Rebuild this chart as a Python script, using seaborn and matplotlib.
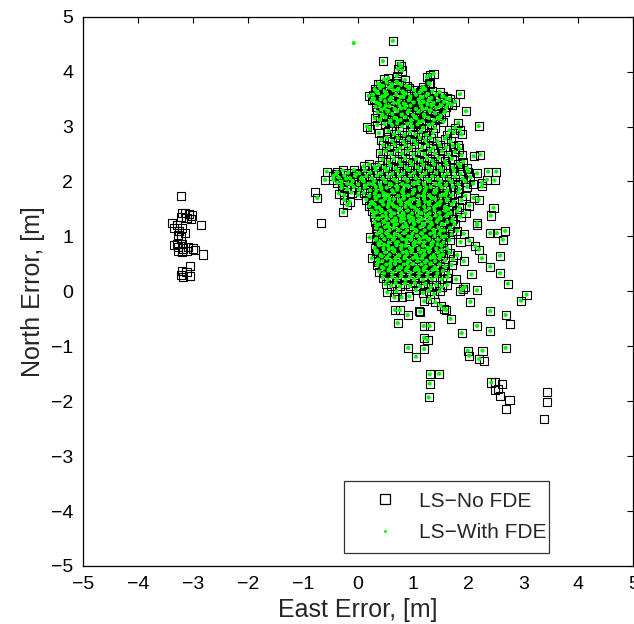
import matplotlib
matplotlib.use("Agg")
import matplotlib.pyplot as plt
from matplotlib.lines import Line2D
import seaborn as sns
import pandas as pd

# Position errors shared by both solutions (east, north in metres)
shared_east = [
    0.72, 0.78, 0.80, 1.30, 1.37, 1.25, 0.63, 0.45, 0.75,
    0.47, 0.55, 0.70, 0.85, 1.28,
    0.36, 0.45, 0.52, 0.61, 0.70, 0.78, 0.88, 1.18, 1.30,
    0.30, 0.40, 0.48, 0.56, 0.64, 0.73, 0.81, 0.92, 1.02, 1.12, 1.22, 1.35,
    0.19, 0.27, 0.36, 0.44, 0.52, 0.60, 0.69, 0.77, 0.86, 0.95, 1.05, 1.14, 1.24, 1.33, 1.42, 1.55, 1.85,
    0.25, 0.33, 0.41, 0.49, 0.57, 0.65, 0.74, 0.83, 0.92, 1.01, 1.10, 1.19, 1.28, 1.37, 1.46, 1.56, 1.66, 1.76,
    0.32, 0.40, 0.48, 0.57, 0.66, 0.75, 0.85, 0.95, 1.05, 1.15, 1.24, 1.33, 1.42, 1.51, 1.60, 1.70,
    0.35, 0.44, 0.53, 0.62, 0.71, 0.80, 0.90, 1.00, 1.10, 1.20, 1.30, 1.40, 1.50, 1.58, 1.96,
    0.30, 0.40, 0.50, 0.59, 0.68, 0.77, 0.86, 0.96, 1.06, 1.17, 1.28, 1.38, 1.47, 1.55, 1.82,
    0.16, 0.21, 0.35, 0.48, 0.62, 0.71, 0.80, 0.89, 0.98, 1.08, 1.18, 1.28, 1.40, 1.66, 1.76, 1.85, 2.19,
    0.38, 0.55, 0.65, 0.74, 0.84, 0.94, 1.04, 1.14, 1.24, 1.36, 1.62, 1.74, 1.88,
    0.42, 0.52, 0.62, 0.72, 0.82, 0.92, 1.02, 1.12, 1.22, 1.32, 1.44, 1.58, 1.68, 1.82,
    0.45, 0.56, 0.66, 0.76, 0.86, 0.96, 1.06, 1.16, 1.26, 1.36, 1.48, 1.60, 1.72, 1.84,
    0.40, 0.50, 0.60, 0.70, 0.80, 0.90, 1.00, 1.10, 1.20, 1.30, 1.40, 1.52, 1.64, 1.76, 1.88, 2.10, 2.22,
    0.44, 0.55, 0.65, 0.75, 0.85, 0.95, 1.05, 1.15, 1.25, 1.35, 1.46, 1.58, 1.70, 1.91, 1.82,
    0.10, 0.20, 0.30, 0.38, 0.48, 0.58, 0.68, 0.78, 0.88, 0.98, 1.08, 1.18, 1.28, 1.38, 1.48, 1.60, 1.72, 1.85, 1.98,
    -0.57, -0.38, -0.28, -0.18, -0.08, 0.02, 0.12, 0.22, 0.32, 0.42, 0.52, 0.62, 0.72, 0.82, 0.92, 1.02,
    1.12, 1.22, 1.32, 1.42, 1.52, 1.62, 1.74, 1.86, 2.00, 2.16, 2.36, 2.51,
    -0.45, -0.35, -0.25, -0.15, -0.05, 0.05, 0.15, 0.25, 0.35, 0.45, 0.55, 0.65, 0.75, 0.85, 0.95, 1.05,
    1.15, 1.25, 1.35, 1.45, 1.55, 1.65, 1.76, 1.90, 2.04, 2.25,
    -0.60, -0.45, -0.38, -0.30, -0.20, -0.10, 0.00, 0.10, 0.20, 0.30, 0.40, 0.50, 0.60, 0.70, 0.80, 0.90,
    1.00, 1.10, 1.20, 1.30, 1.40, 1.50, 1.60, 1.70, 1.82, 1.95, 2.09, 2.34, 2.48,
    -0.30, -0.20, -0.08, 0.02, 0.12, 0.22, 0.32, 0.42, 0.52, 0.62, 0.72, 0.82, 0.92, 1.02, 1.12, 1.22,
    1.32, 1.42, 1.52, 1.62, 1.72, 1.84, 1.98, 2.25,
    -0.35, -0.25, -0.12, 0.00, 0.10, 0.20, 0.30, 0.38, 0.46, 0.55, 0.64, 0.73, 0.82, 0.91, 1.00, 1.10,
    1.20, 1.30, 1.40, 1.50, 1.60, 1.70, 1.82, 1.95, 2.10,
    -0.74, -0.25, -0.15, 0.15, 0.25, 0.33, 0.41, 0.49, 0.57, 0.65, 0.74, 0.83, 0.92, 1.01, 1.10, 1.20,
    1.30, 1.40, 1.50, 1.62, 1.74, 1.88, 2.19,
    -0.20, 0.20, 0.30, 0.38, 0.46, 0.54, 0.62, 0.70, 0.78, 0.86, 0.94, 1.02, 1.11, 1.20, 1.29, 1.38,
    1.48, 1.58, 1.70, 1.84, 2.02,
    -0.27, 0.25, 0.34, 0.42, 0.50, 0.58, 0.66, 0.74, 0.82, 0.90, 0.98, 1.06, 1.14, 1.22, 1.30, 1.39,
    1.48, 1.58, 1.68, 1.80, 1.95, 2.46, 2.41,
    0.28, 0.36, 0.44, 0.52, 0.60, 0.68, 0.76, 0.84, 0.92, 1.00, 1.08, 1.16, 1.24, 1.32, 1.41, 1.50,
    1.60, 1.72, 1.86,
    0.30, 0.38, 0.46, 0.54, 0.62, 0.70, 0.78, 0.86, 0.94, 1.02, 1.10, 1.18, 1.26, 1.34, 1.43, 1.52,
    1.62, 1.75, 2.16, 2.16,
    0.33, 0.41, 0.49, 0.57, 0.65, 0.73, 0.81, 0.89, 0.97, 1.05, 1.13, 1.21, 1.29, 1.37, 1.46, 1.56,
    1.67, 1.80, 1.92,
    0.21, 0.35, 0.43, 0.51, 0.59, 0.67, 0.75, 0.83, 0.91, 0.99, 1.07, 1.15, 1.23, 1.31, 1.39, 1.48,
    1.58, 1.70, 2.40, 2.52, 2.67, 2.63,
    0.32, 0.40, 0.48, 0.56, 0.64, 0.72, 0.80, 0.88, 0.96, 1.04, 1.12, 1.20, 1.28, 1.36, 1.45, 1.55,
    1.66, 1.86, 2.02,
    0.30, 0.38, 0.46, 0.54, 0.62, 0.70, 0.78, 0.86, 0.94, 1.02, 1.10, 1.18, 1.26, 1.34, 1.42, 1.51,
    1.62, 2.13, 2.20,
    0.33, 0.41, 0.49, 0.57, 0.65, 0.73, 0.81, 0.89, 0.97, 1.05, 1.13, 1.21, 1.29, 1.37, 1.45, 1.54,
    1.66, 1.80,
    0.25, 0.36, 0.44, 0.52, 0.60, 0.68, 0.76, 0.84, 0.92, 1.00, 1.08, 1.16, 1.24, 1.32, 1.40, 1.48,
    1.58, 1.72, 1.92, 2.25, 2.58,
    0.35, 0.43, 0.51, 0.59, 0.67, 0.75, 0.83, 0.91, 0.99, 1.07, 1.15, 1.23, 1.31, 1.39, 1.48, 1.58,
    1.70, 2.40,
    0.38, 0.47, 0.55, 0.63, 0.71, 0.79, 0.87, 0.95, 1.03, 1.11, 1.19, 1.27, 1.35, 1.44, 1.54, 1.64,
    2.06, 2.58,
    0.45, 0.54, 0.62, 0.70, 0.78, 0.86, 0.94, 1.02, 1.10, 1.18, 1.26, 1.34, 1.42, 1.52, 1.62, 1.78, 2.72,
    0.50, 0.60, 0.68, 0.76, 0.85, 0.94, 1.03, 1.12, 1.22, 1.32, 1.42, 1.52, 1.62, 1.90, 1.94,
    0.53, 0.66, 0.79, 0.93, 0.70, 1.05, 1.18, 1.28, 1.38, 1.48, 1.85, 2.16,
    1.20, 1.30, 1.40, 1.50, 1.56, 2.04, 2.96, 3.06,
    0.67, 0.76, 0.90, 1.13, 1.60, 1.68, 2.40, 2.68,
    0.72, 1.19, 1.30, 1.20, 1.26, 0.91, 1.05, 1.20, 1.30, 1.47, 1.30, 1.28,
    1.88, 2.16, 2.40, 2.68, 1.99, 2.02, 2.26, 2.20, 2.42,
]
shared_north = [
    4.05, 4.10, 4.02, 3.93, 3.96, 3.90, 4.56, 4.19, 4.14,
    3.86, 3.88, 3.92, 3.85, 3.79,
    3.78, 3.74, 3.80, 3.77, 3.82, 3.76, 3.74, 3.72, 3.78,
    3.68, 3.70, 3.64, 3.71, 3.66, 3.69, 3.64, 3.70, 3.66, 3.62, 3.68, 3.64,
    3.56, 3.58, 3.61, 3.55, 3.59, 3.53, 3.58, 3.54, 3.60, 3.55, 3.58, 3.54, 3.57, 3.52, 3.58, 3.55, 3.59,
    3.48, 3.44, 3.50, 3.46, 3.49, 3.43, 3.47, 3.42, 3.48, 3.44, 3.49, 3.45, 3.48, 3.43, 3.48, 3.45, 3.50, 3.45,
    3.36, 3.39, 3.33, 3.37, 3.32, 3.38, 3.34, 3.38, 3.32, 3.37, 3.33, 3.38, 3.34, 3.39, 3.35, 3.40,
    3.26, 3.22, 3.27, 3.23, 3.28, 3.22, 3.26, 3.21, 3.27, 3.22, 3.28, 3.24, 3.20, 3.27, 3.28,
    3.15, 3.12, 3.17, 3.11, 3.16, 3.12, 3.17, 3.12, 3.15, 3.10, 3.16, 3.12, 3.14, 3.09, 3.07,
    3.00, 2.95, 3.03, 3.05, 3.02, 3.06, 3.00, 3.05, 2.99, 3.04, 2.98, 3.03, 2.97, 2.93, 2.98, 2.94, 3.01,
    2.88, 2.92, 2.86, 2.91, 2.85, 2.90, 2.86, 2.91, 2.85, 2.88, 2.84, 2.89, 2.86,
    2.76, 2.80, 2.74, 2.79, 2.73, 2.78, 2.74, 2.80, 2.75, 2.79, 2.74, 2.78, 2.73, 2.67,
    2.66, 2.62, 2.67, 2.61, 2.66, 2.62, 2.68, 2.62, 2.67, 2.61, 2.66, 2.62, 2.65, 2.60,
    2.52, 2.55, 2.50, 2.56, 2.51, 2.55, 2.49, 2.54, 2.50, 2.56, 2.51, 2.55, 2.49, 2.54, 2.48, 2.46, 2.49,
    2.40, 2.36, 2.41, 2.37, 2.42, 2.36, 2.41, 2.37, 2.42, 2.38, 2.43, 2.37, 2.41, 2.36, 2.32,
    2.28, 2.31, 2.27, 2.30, 2.25, 2.29, 2.24, 2.30, 2.25, 2.31, 2.26, 2.30, 2.25, 2.31, 2.26, 2.30, 2.25, 2.28, 2.24,
    2.18, 2.17, 2.20, 2.16, 2.21, 2.15, 2.20, 2.16, 2.21, 2.15, 2.20, 2.14, 2.19, 2.15, 2.21, 2.16,
    2.20, 2.15, 2.21, 2.16, 2.20, 2.15, 2.19, 2.14, 2.18, 2.15, 2.18, 2.18,
    2.10, 2.07, 2.11, 2.06, 2.10, 2.05, 2.10, 2.06, 2.11, 2.05, 2.09, 2.04, 2.10, 2.05, 2.11, 2.06,
    2.10, 2.04, 2.09, 2.05, 2.10, 2.04, 2.09, 2.05, 2.08, 1.98,
    2.03, 2.03, 1.98, 2.00, 1.96, 2.01, 1.95, 2.00, 1.96, 2.01, 1.95, 1.99, 1.94, 2.00, 1.95, 2.01,
    1.96, 2.00, 1.95, 2.01, 1.96, 2.00, 1.94, 1.99, 1.95, 2.00, 1.96, 2.03, 2.02,
    1.88, 1.86, 1.90, 1.85, 1.89, 1.84, 1.90, 1.85, 1.89, 1.84, 1.90, 1.86, 1.91, 1.85, 1.89, 1.84,
    1.90, 1.85, 1.89, 1.84, 1.90, 1.86, 1.90, 1.91,
    1.78, 1.75, 1.80, 1.76, 1.79, 1.74, 1.78, 1.74, 1.79, 1.75, 1.80, 1.74, 1.79, 1.75, 1.80, 1.74,
    1.79, 1.75, 1.80, 1.74, 1.79, 1.75, 1.79, 1.74, 1.70,
    1.70, 1.66, 1.63, 1.67, 1.63, 1.68, 1.64, 1.69, 1.63, 1.68, 1.64, 1.69, 1.63, 1.68, 1.64, 1.69,
    1.63, 1.68, 1.64, 1.68, 1.63, 1.66, 1.67,
    1.57, 1.55, 1.58, 1.53, 1.58, 1.54, 1.59, 1.53, 1.58, 1.54, 1.59, 1.53, 1.58, 1.54, 1.59, 1.53,
    1.58, 1.54, 1.58, 1.53, 1.56,
    1.44, 1.47, 1.44, 1.48, 1.43, 1.47, 1.42, 1.48, 1.43, 1.47, 1.42, 1.48, 1.43, 1.47, 1.42, 1.47,
    1.43, 1.47, 1.42, 1.46, 1.42, 1.52, 1.38,
    1.36, 1.33, 1.37, 1.32, 1.37, 1.33, 1.38, 1.32, 1.37, 1.33, 1.38, 1.32, 1.37, 1.33, 1.38, 1.33,
    1.37, 1.32, 1.36,
    1.26, 1.22, 1.27, 1.23, 1.28, 1.22, 1.27, 1.23, 1.28, 1.22, 1.27, 1.23, 1.28, 1.22, 1.27, 1.23,
    1.26, 1.22, 1.24, 1.21,
    1.15, 1.12, 1.17, 1.11, 1.16, 1.12, 1.17, 1.11, 1.16, 1.12, 1.17, 1.11, 1.16, 1.12, 1.16, 1.11,
    1.15, 1.10, 1.05,
    0.98, 1.05, 1.01, 1.06, 1.00, 1.05, 1.01, 1.06, 1.00, 1.05, 1.01, 1.06, 1.00, 1.05, 1.01, 1.05,
    1.00, 1.04, 1.06, 1.06, 1.10, 0.94,
    0.94, 0.90, 0.95, 0.89, 0.94, 0.90, 0.95, 0.89, 0.94, 0.90, 0.95, 0.89, 0.94, 0.90, 0.94, 0.89,
    0.93, 0.90, 0.92,
    0.79, 0.84, 0.78, 0.83, 0.79, 0.84, 0.78, 0.83, 0.79, 0.84, 0.78, 0.83, 0.79, 0.84, 0.78, 0.83,
    0.78, 0.82, 0.76,
    0.70, 0.66, 0.71, 0.67, 0.72, 0.66, 0.71, 0.67, 0.72, 0.66, 0.71, 0.67, 0.72, 0.66, 0.71, 0.67,
    0.70, 0.66,
    0.60, 0.58, 0.55, 0.60, 0.56, 0.61, 0.55, 0.60, 0.56, 0.61, 0.55, 0.60, 0.56, 0.61, 0.55, 0.60,
    0.56, 0.58, 0.55, 0.60, 0.65,
    0.48, 0.44, 0.49, 0.45, 0.50, 0.44, 0.49, 0.45, 0.50, 0.44, 0.49, 0.45, 0.50, 0.44, 0.49, 0.45,
    0.48, 0.45,
    0.36, 0.33, 0.38, 0.34, 0.39, 0.33, 0.38, 0.34, 0.39, 0.33, 0.38, 0.34, 0.39, 0.33, 0.37, 0.33,
    0.31, 0.33,
    0.25, 0.21, 0.26, 0.22, 0.27, 0.21, 0.26, 0.22, 0.27, 0.21, 0.26, 0.22, 0.27, 0.22, 0.25, 0.22, 0.14,
    0.13, 0.10, 0.15, 0.09, 0.14, 0.10, 0.15, 0.09, 0.13, 0.08, 0.12, 0.08, 0.12, 0.05, 0.08,
    -0.02, -0.11, -0.11, -0.09, 0.00, 0.02, -0.03, 0.01, -0.05, 0.00, 0.00, 0.02,
    -0.18, -0.14, -0.20, -0.26, -0.32, -0.19, -0.17, -0.06,
    -0.34, -0.34, -0.43, -0.37, -0.34, -0.50, -0.36, -0.43,
    -0.58, -0.63, -0.63, -0.85, -0.88, -1.03, -1.19, -1.05, -1.51, -1.50, -1.68, -1.93,
    -0.76, -0.63, -0.72, -1.03, -1.08, -1.17, -1.08, -1.23, -1.66,
]

# Additional shared fixes packed into the densest parts of the cloud
dense_east = [
    0.39, 0.61, 0.71, 0.93,
    0.33, 0.50, 0.72, 0.81, 1.15, 1.27, 1.48,
    0.29, 0.48, 0.59, 0.82, 0.94, 1.17, 1.29, 1.53, 1.61,
    0.38, 0.50, 0.73, 0.86, 1.12, 1.26, 1.49, 1.63,
    0.42, 0.55, 0.78, 0.92, 1.17, 1.32, 1.57,
    0.43, 0.66, 0.79, 1.04, 1.20, 1.45,
    0.57, 0.72, 0.96, 1.11, 1.35,
    -0.40, -0.22, -0.04, 0.14, -0.13, 0.07, -0.30,
    0.27, 0.41, 0.58, 0.69, 0.87, 1.06, 1.24, 1.47,
    0.33, 0.49, 0.71, 0.80, 0.99, 1.12, 1.38, 1.55,
    0.31, 0.47, 0.57, 0.83, 0.95, 1.19, 1.34, 1.59,
    0.24, 0.44, 0.55, 0.77, 0.88, 1.09, 1.22, 1.45, 1.61,
    0.33, 0.43, 0.65, 0.76, 0.97, 1.08, 1.29, 1.41, 1.64,
    0.29, 0.51, 0.61, 0.83, 0.93, 1.15, 1.25, 1.49, 1.63,
    0.37, 0.47, 0.69, 0.79, 1.01, 1.11, 1.33, 1.45, 1.71,
    0.34, 0.56, 0.66, 0.88, 0.99, 1.20, 1.30, 1.54,
    0.42, 0.52, 0.74, 0.84, 1.06, 1.16, 1.38, 1.50,
    0.33, 0.55, 0.65, 0.87, 0.97, 1.19, 1.29, 1.53,
    0.37, 0.47, 0.69, 0.79, 1.01, 1.11, 1.33, 1.44,
    0.34, 0.56, 0.66, 0.88, 0.98, 1.20, 1.30, 1.52,
    0.43, 0.53, 0.75, 0.85, 1.07, 1.17, 1.39, 1.49,
    0.36, 0.58, 0.68, 0.90, 1.00, 1.22, 1.32,
    0.46, 0.56, 0.78, 0.88, 1.10, 1.20, 1.42,
]
dense_north = [
    3.77, 3.73, 3.79, 3.71,
    3.64, 3.60, 3.67, 3.62, 3.66, 3.59, 3.63,
    3.51, 3.55, 3.49, 3.54, 3.50, 3.53, 3.48, 3.55, 3.51,
    3.42, 3.38, 3.44, 3.40, 3.43, 3.41, 3.37, 3.42,
    3.31, 3.28, 3.33, 3.29, 3.32, 3.30, 3.26,
    3.19, 3.16, 3.21, 3.17, 3.19, 3.16,
    3.08, 3.11, 3.06, 3.09, 3.05,
    2.13, 2.05, 2.13, 1.93, 1.95, 2.07, 1.93,
    1.95, 1.90, 1.96, 1.91, 1.93, 1.97, 1.89, 1.94,
    1.83, 1.77, 1.85, 1.81, 1.78, 1.86, 1.80, 1.76,
    1.71, 1.75, 1.69, 1.73, 1.67, 1.74, 1.70, 1.76,
    1.60, 1.64, 1.58, 1.65, 1.61, 1.57, 1.63, 1.60, 1.65,
    1.52, 1.46, 1.55, 1.49, 1.54, 1.47, 1.51, 1.56, 1.50,
    1.41, 1.36, 1.43, 1.39, 1.35, 1.42, 1.38, 1.35, 1.41,
    1.32, 1.26, 1.29, 1.33, 1.27, 1.31, 1.25, 1.30, 1.28,
    1.20, 1.17, 1.22, 1.19, 1.15, 1.21, 1.18, 1.22,
    1.09, 1.06, 1.11, 1.07, 1.10, 1.05, 1.08, 1.11,
    0.96, 1.00, 0.97, 0.94, 0.99, 0.98, 0.95, 0.99,
    0.87, 0.85, 0.88, 0.84, 0.87, 0.89, 0.85, 0.86,
    0.74, 0.77, 0.75, 0.72, 0.76, 0.74, 0.78, 0.75,
    0.64, 0.62, 0.65, 0.63, 0.61, 0.64, 0.62, 0.65,
    0.53, 0.51, 0.55, 0.52, 0.50, 0.53, 0.51,
    0.42, 0.40, 0.43, 0.41, 0.39, 0.42, 0.41,
]

# Fixes rejected by fault detection and exclusion (plain least squares only)
rejected_east = [
    -3.22, -3.20, -3.14, -3.08, -3.02, -3.22, -3.12, -3.04, -2.86, -3.38,
    -3.30, -3.34, -3.25, -3.20, -3.15, -3.27, -3.22, -3.30, -3.27, -3.20,
    -3.35, -3.18, -3.10, -3.12, -3.00, -2.96, -3.28, -3.20, -2.82, -3.20,
    -3.05, -3.22, -3.18, -3.05, -3.12,
    -0.67, -0.78, 1.10, 2.76, 2.28,
    2.48, 2.61, 2.54, 2.48, 2.58, 2.75, 2.68, 3.43, 3.43, 3.37,
]
rejected_north = [
    1.74, 1.42, 1.43, 1.40, 1.38, 1.36, 1.33, 1.32, 1.21, 1.24,
    1.20, 1.15, 1.10, 1.15, 1.06, 1.03, 0.98, 0.86, 0.80, 0.86,
    0.85, 0.78, 0.80, 0.74, 0.78, 0.75, 0.74, 0.72, 0.67, 0.37,
    0.46, 0.30, 0.26, 0.28, 0.36,
    1.24, 1.81, -0.36, -0.60, -1.27,
    -1.65, -1.68, -1.77, -1.80, -1.90, -1.98, -2.15, -1.84, -2.02, -2.33,
]

# Fix present only in the FDE solution
fde_only_east = [-0.08]
fde_only_north = [4.52]

series_labels = ["LS\u2212No FDE", "LS\u2212With FDE"]
tick_values = [-5, -4, -3, -2, -1, 0, 1, 2, 3, 4, 5]

both_east = shared_east + dense_east
both_north = shared_north + dense_north
no_fde = pd.DataFrame({"east": both_east + rejected_east,
                       "north": both_north + rejected_north})
with_fde = pd.DataFrame({"east": both_east + fde_only_east,
                         "north": both_north + fde_only_north})

sns.set_style("white")
plt.rcParams["font.family"] = ["Liberation Sans", "DejaVu Sans"]
plt.rcParams["axes.unicode_minus"] = True

fig = plt.figure(figsize=(6.34, 6.24), dpi=100)
ax = fig.add_axes([83 / 634, 58 / 624, 550.3 / 634, 549.3 / 624])

sns.scatterplot(data=no_fde, x="east", y="north", ax=ax, marker="s", s=34,
                fc="none", ec="black", linewidth=0.8, legend=False, zorder=2)
sns.scatterplot(data=with_fde, x="east", y="north", ax=ax, marker="o", s=9,
                color="#00ff00", ec="none", linewidth=0, legend=False, zorder=3)

ax.set_xlim(-5, 5)
ax.set_ylim(-5, 5)
ax.set_xticks(tick_values)
ax.set_yticks(tick_values)
ax.tick_params(direction="in", length=4, width=0.8, top=True, right=True,
               labelsize=14, colors="black", pad=7)
for side in ax.spines.values():
    side.set_color("black")
    side.set_linewidth(0.9)

ax.set_xlabel("East Error, [m]", fontsize=18, labelpad=4)
ax.set_ylabel("North Error, [m]", fontsize=18, labelpad=4)

handles = [
    Line2D([], [], ls="none", marker="s", ms=6.5, mfc="none", mec="black", mew=0.9),
    Line2D([], [], ls="none", marker="o", ms=2.2, mfc="#00ff00", mec="none"),
]
leg = ax.legend(handles, series_labels, loc="center",
                bbox_to_anchor=(0.4748, 0.0249, 0.372, 0.1286),
                mode="expand", fontsize=15, frameon=True, fancybox=False,
                borderpad=0.5, labelspacing=0.62, handletextpad=0.2,
                handlelength=2.9, borderaxespad=0)
leg.get_frame().set_edgecolor("black")
leg.get_frame().set_linewidth(0.9)

fig.savefig("out.png", dpi=100)
